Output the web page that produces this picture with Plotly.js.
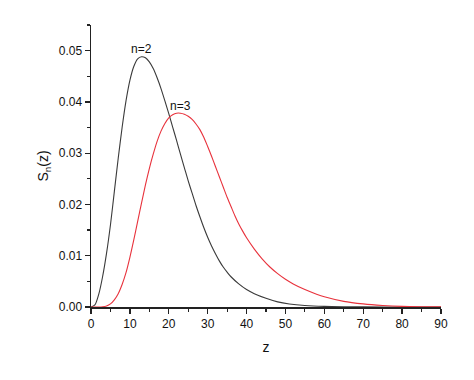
<!DOCTYPE html>
<html>
<head>
<meta charset="utf-8">
<script src="https://cdn.plot.ly/plotly-3.0.1.min.js"></script>
<style>html,body{margin:0;padding:0;background:#fff;}#chart{width:474px;height:380px;}</style>
</head>
<body>
<div id="chart"></div>
<script>
// z values (x axis) and S_n(z) values
const zN2 = [0, 1, 2, 3, 4, 5, 6, 7, 8, 9, 10, 11, 12, 13, 14, 15, 16, 17, 18, 19, 20, 21, 22, 23, 24, 25, 26, 27, 28, 29, 30, 31, 32, 33, 34, 35, 36, 38, 40, 42, 45, 48, 51, 55, 60, 65, 70, 80, 90];
const sN2 = [0, 0.0004, 0.0025, 0.0060, 0.0105, 0.0160, 0.0225, 0.0290, 0.0350, 0.0402, 0.0442, 0.0469, 0.0484, 0.0488, 0.0486, 0.0478, 0.0465, 0.0447, 0.0426, 0.0402, 0.0377, 0.0351, 0.0325, 0.0298, 0.0272, 0.0246, 0.0222, 0.0198, 0.0176, 0.0155, 0.0136, 0.0119, 0.0104, 0.0090, 0.0078, 0.0068, 0.0059, 0.0045, 0.0034, 0.0026, 0.0017, 0.0010, 0.0006, 0.0003, 0.00012, 0.00005, 0.00002, 0, 0];

const zN3 = [0, 2, 3, 4, 5, 6, 7, 8, 9, 10, 11, 12, 13, 14, 15, 16, 17, 18, 19, 20, 21, 22, 23, 24, 25, 26, 27, 28, 29, 30, 31, 32, 33, 34, 35, 36, 37, 38, 39, 40, 42, 44, 46, 48, 50, 52, 55, 58, 60, 65, 70, 75, 80, 85, 90];
const sN3 = [0, 0, 0.00005, 0.0002, 0.0006, 0.0014, 0.0026, 0.0044, 0.0067, 0.0097, 0.0131, 0.0167, 0.0203, 0.0238, 0.0270, 0.0298, 0.0323, 0.0343, 0.0358, 0.0369, 0.0375, 0.0378, 0.0378, 0.0376, 0.0372, 0.0366, 0.0357, 0.0346, 0.0331, 0.0313, 0.0294, 0.0274, 0.0254, 0.0234, 0.0214, 0.0196, 0.0178, 0.0162, 0.0148, 0.0135, 0.0113, 0.0094, 0.0078, 0.0065, 0.0054, 0.0045, 0.0034, 0.0025, 0.0020, 0.0011, 0.0006, 0.0003, 0.00012, 0.00005, 0.00002];

const curveLabels = ['n=2', 'n=3'];
const labelZ = [13.1, 23.0];
const labelS = [0.0503, 0.0393];

const fontFam = 'Liberation Sans, Arial, Helvetica, sans-serif';

const traces = [
  {x: zN2, y: sN2, mode: 'lines', line: {color: '#3a3a3a', width: 1.1, shape: 'spline', smoothing: 0.8}, hoverinfo: 'skip'},
  {x: zN3, y: sN3, mode: 'lines', line: {color: '#e8323c', width: 1.1, shape: 'spline', smoothing: 0.8}, hoverinfo: 'skip'}
];

const annotations = curveLabels.map((t, i) => ({
  x: labelZ[i], y: labelS[i], xref: 'x', yref: 'y', text: t, showarrow: false,
  font: {family: fontFam, size: 12, color: '#111'}
}));

const layout = {
  width: 474, height: 380,
  margin: {l: 91, r: 33, t: 25, b: 73, pad: 0},
  paper_bgcolor: '#fff', plot_bgcolor: '#fff',
  showlegend: false,
  font: {family: fontFam, size: 12, color: '#111'},
  xaxis: {
    range: [0, 90], dtick: 10, tick0: 0,
    showgrid: false, zeroline: false,
    showline: true, linecolor: '#222', linewidth: 1.5,
    ticks: 'outside', ticklen: 5, tickwidth: 1.3, tickcolor: '#222',
    minor: {dtick: 5, ticks: 'outside', ticklen: 3, tickwidth: 1.2, tickcolor: '#222'},
    tickfont: {family: fontFam, size: 12, color: '#111'},
    title: {text: 'z', font: {family: fontFam, size: 14, color: '#111'}, standoff: 12},
    layer: 'below traces', fixedrange: true
  },
  yaxis: {
    range: [0, 0.055], dtick: 0.01, tick0: 0, tickformat: '.2f',
    showgrid: false, zeroline: false,
    showline: true, linecolor: '#222', linewidth: 1.5,
    ticks: 'outside', ticklen: 5, tickwidth: 1.3, tickcolor: '#222',
    minor: {dtick: 0.005, ticks: 'outside', ticklen: 3, tickwidth: 1.2, tickcolor: '#222'},
    tickfont: {family: fontFam, size: 12, color: '#111'},
    title: {text: 'S<sub>n</sub>(z)', font: {family: fontFam, size: 14, color: '#111'}, standoff: 7},
    layer: 'below traces', fixedrange: true
  },
  annotations: annotations
};

Plotly.newPlot('chart', traces, layout, {staticPlot: true, displayModeBar: false});
</script>
</body>
</html>
